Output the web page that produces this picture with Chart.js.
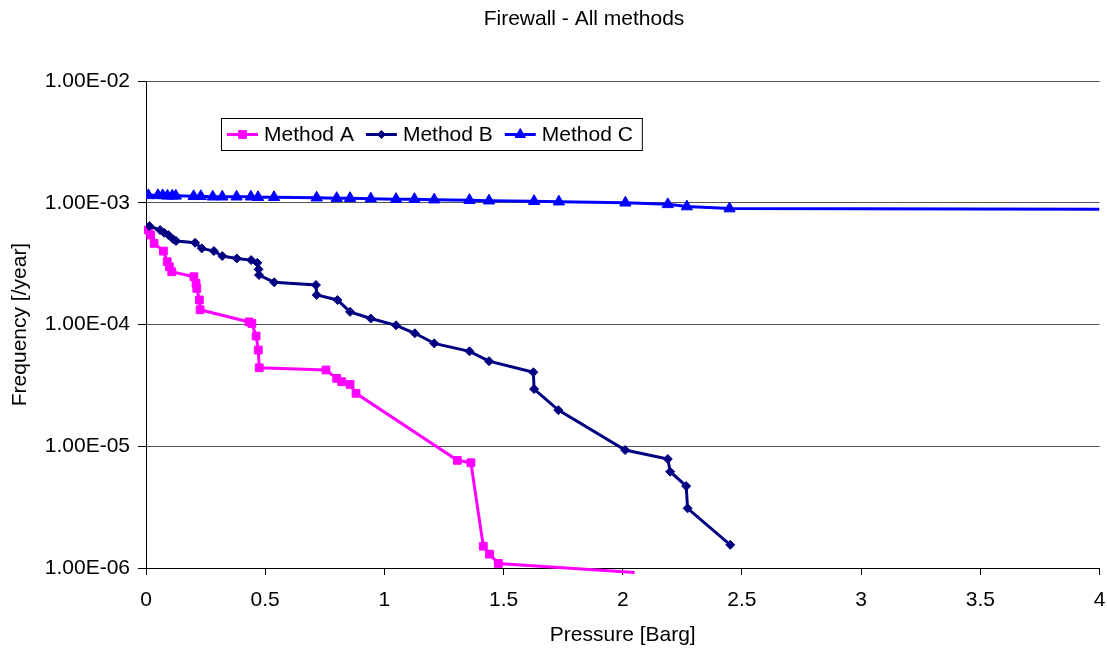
<!DOCTYPE html>
<html>
<head>
<meta charset="utf-8">
<title>Firewall - All methods</title>
<script src="https://cdn.jsdelivr.net/npm/chart.js@4.4.1/dist/chart.umd.min.js"></script>
<style>
  html, body { margin: 0; padding: 0; background: #fff; }
  #wrap { width: 1107px; height: 649px; position: relative; }
</style>
</head>
<body>
<div id="wrap"><canvas id="fwChart"></canvas></div>
<script>
// Values
const chartTitle = 'Firewall - All methods';
const seriesNames = ['Method A', 'Method B', 'Method C'];

const pressureA = [0.01, 0.02, 0.034, 0.073, 0.089, 0.098, 0.108, 0.201, 0.21, 0.213,
  0.224, 0.227, 0.432, 0.444, 0.462, 0.471, 0.475, 0.755, 0.80, 0.821,
  0.856, 0.881, 1.306, 1.363, 1.415, 1.441, 1.478, 2.05];
const freqA = [5.97e-4, 5.43e-4, 4.64e-4, 4.01e-4, 3.28e-4, 2.98e-4, 2.71e-4, 2.47e-4, 2.18e-4, 1.98e-4,
  1.59e-4, 1.32e-4, 1.05e-4, 1.02e-4, 8.04e-5, 6.17e-5, 4.41e-5, 4.23e-5, 3.61e-5, 3.39e-5,
  3.22e-5, 2.72e-5, 7.66e-6, 7.32e-6, 1.51e-6, 1.30e-6, 1.09e-6, 9.2e-7];

const pressureB = [0.014, 0.059, 0.076, 0.094, 0.115, 0.126, 0.206, 0.234, 0.285, 0.32,
  0.381, 0.441, 0.467, 0.472, 0.474, 0.538, 0.713, 0.716, 0.803, 0.856,
  0.943, 1.049, 1.128, 1.209, 1.357, 1.439, 1.625, 1.628, 1.73, 2.01,
  2.189, 2.199, 2.266, 2.272, 2.451];
const freqB = [6.44e-4, 5.97e-4, 5.67e-4, 5.43e-4, 5.0e-4, 4.85e-4, 4.69e-4, 4.22e-4, 4.01e-4, 3.65e-4,
  3.49e-4, 3.38e-4, 3.21e-4, 2.84e-4, 2.55e-4, 2.22e-4, 2.11e-4, 1.75e-4, 1.59e-4, 1.27e-4,
  1.12e-4, 9.85e-5, 8.47e-5, 7.0e-5, 6.02e-5, 5.0e-5, 4.05e-5, 2.95e-5, 1.98e-5, 9.3e-6,
  7.85e-6, 6.18e-6, 4.71e-6, 3.09e-6, 1.55e-6];

const pressureC = [0.01, 0.05, 0.07, 0.09, 0.11, 0.125, 0.2, 0.23, 0.28, 0.32,
  0.38, 0.44, 0.47, 0.537, 0.716, 0.80, 0.856, 0.943, 1.049, 1.126,
  1.209, 1.357, 1.439, 1.628, 1.732, 2.011, 2.189, 2.269, 2.448, 4.0];
const freqC = [1.15e-3, 1.15e-3, 1.15e-3, 1.14e-3, 1.14e-3, 1.14e-3, 1.13e-3, 1.13e-3, 1.12e-3, 1.12e-3,
  1.12e-3, 1.12e-3, 1.11e-3, 1.11e-3, 1.10e-3, 1.09e-3, 1.09e-3, 1.08e-3, 1.07e-3, 1.07e-3,
  1.06e-3, 1.05e-3, 1.04e-3, 1.03e-3, 1.02e-3, 1.0e-3, 0.97e-3, 0.93e-3, 0.895e-3, 0.885e-3];

const yTicks = [1e-6, 1e-5, 1e-4, 1e-3, 1e-2];
const xTicks = [0, 0.5, 1, 1.5, 2, 2.5, 3, 3.5, 4];

const FONT = "'Liberation Sans', Arial, sans-serif";

function toPoints(xs, ys) {
  return xs.map((x, i) => ({ x: x, y: ys[i] }));
}

// Excel style "1.00E-03"
function sciLabel(v) {
  const parts = Number(v).toExponential(2).split('e');
  const exp = parseInt(parts[1], 10);
  return parts[0] + 'E' + (exp < 0 ? '-' : '+') + String(Math.abs(exp)).padStart(2, '0');
}

// hide marker on the last point of a series (line only continues there)
function lastHidden(n, r) {
  return Array.from({ length: n }, (_, i) => (i === n - 1 ? 0 : r));
}

// Title + boxed legend inside the plot, drawn on the canvas
const decorPlugin = {
  id: 'decor',
  afterDraw(chart) {
    const ctx = chart.ctx;
    ctx.save();
    ctx.fillStyle = '#000';
    ctx.font = '21px ' + FONT;
    ctx.textAlign = 'center';
    ctx.textBaseline = 'middle';
    ctx.fillText(chartTitle, 584, 19);

    // legend
    const boxL = 221, boxT = 118, boxH = 32;
    const lineLen = 31, gap = 6, itemGap = 12;
    ctx.font = '21px ' + FONT;
    let x = boxL + 6;
    const items = chart.data.datasets.map(ds => {
      const w = ctx.measureText(ds.label).width;
      const it = { ds: ds, x: x, w: w };
      x += lineLen + gap + w + itemGap;
      return it;
    });
    const boxR = x - itemGap + 9;
    ctx.fillStyle = '#fff';
    ctx.fillRect(boxL, boxT, boxR - boxL, boxH);
    ctx.strokeStyle = '#000';
    ctx.lineWidth = 1;
    ctx.strokeRect(boxL + 0.5, boxT + 0.5, boxR - boxL, boxH);
    const cy = boxT + boxH / 2 + 0.5;
    items.forEach(it => {
      const ds = it.ds;
      ctx.strokeStyle = ds.borderColor;
      ctx.lineWidth = ds.borderWidth;
      ctx.beginPath();
      ctx.moveTo(it.x, cy);
      ctx.lineTo(it.x + lineLen, cy);
      ctx.stroke();
      ctx.fillStyle = ds.pointBackgroundColor;
      ctx.strokeStyle = ds.pointBorderColor;
      ctx.lineWidth = 1;
      Chart.helpers.drawPoint(ctx, {
        pointStyle: ds.pointStyle,
        radius: ds.legendRadius,
        borderWidth: 1,
        rotation: 0
      }, it.x + lineLen / 2, cy);
      ctx.fillStyle = '#000';
      ctx.textAlign = 'left';
      ctx.fillText(ds.label, it.x + lineLen + gap, cy + 1);
    });
    ctx.restore();
  }
};

const ctx = document.getElementById('fwChart').getContext('2d');
const chart = new Chart(ctx, {
  type: 'line',
  data: {
    datasets: [{
      label: seriesNames[0],
      data: toPoints(pressureA, freqA),
      borderColor: '#ff00ff',
      backgroundColor: '#ff00ff',
      pointBackgroundColor: '#ff00ff',
      pointBorderColor: '#ff00ff',
      borderWidth: 3,
      pointStyle: 'rect',
      pointRadius: lastHidden(pressureA.length, 5.5),
      legendRadius: 5.5,
      pointBorderWidth: 1,
      tension: 0,
      clip: false,
      order: 3
    }, {
      label: seriesNames[1],
      data: toPoints(pressureB, freqB),
      borderColor: '#000080',
      backgroundColor: '#000080',
      pointBackgroundColor: '#000080',
      pointBorderColor: '#000080',
      borderWidth: 3,
      pointStyle: 'rectRot',
      pointRadius: 4.5,
      legendRadius: 4,
      pointBorderWidth: 1,
      tension: 0,
      order: 2
    }, {
      label: seriesNames[2],
      data: toPoints(pressureC, freqC),
      borderColor: '#0000ff',
      backgroundColor: '#0000ff',
      pointBackgroundColor: '#0000ff',
      pointBorderColor: '#0000ff',
      borderWidth: 3,
      pointStyle: 'triangle',
      pointRadius: lastHidden(pressureC.length, 6.5),
      legendRadius: 6,
      pointBorderWidth: 1,
      tension: 0,
      order: 1
    }]
  },
  options: {
    responsive: true,
    maintainAspectRatio: false,
    animation: false,
    layout: { padding: { left: 0, right: 7, top: 81, bottom: 0 } },
    plugins: {
      legend: { display: false },
      title: { display: false },
      tooltip: { enabled: false }
    },
    scales: {
      x: {
        type: 'linear',
        min: 0,
        max: 4,
        afterBuildTicks: scale => { scale.ticks = xTicks.map(v => ({ value: v })); },
        afterFit: scale => {
          scale.height = 81;
          scale.paddingLeft = 0;
          scale.paddingRight = 6;
        },
        ticks: {
          color: '#000',
          font: { family: FONT, size: 21 },
          padding: 13,
          maxRotation: 0,
          callback: v => String(v)
        },
        grid: { drawOnChartArea: false, drawTicks: true, tickLength: 7, tickColor: '#000' },
        border: { display: true, color: '#000', width: 1 },
        title: {
          display: true,
          text: 'Pressure [Barg]',
          color: '#000',
          font: { family: FONT, size: 21 },
          padding: { top: 0, bottom: 1 }
        }
      },
      y: {
        type: 'logarithmic',
        min: 1e-6,
        max: 1e-2,
        afterBuildTicks: scale => { scale.ticks = yTicks.map(v => ({ value: v })); },
        afterFit: scale => { scale.width = 146; },
        ticks: {
          color: '#000',
          font: { family: FONT, size: 21 },
          padding: 8,
          callback: v => sciLabel(v)
        },
        grid: { color: '#555', lineWidth: 1, drawTicks: true, tickLength: 8, tickColor: '#000' },
        border: { display: true, color: '#000', width: 1 },
        title: {
          display: true,
          text: 'Frequency [/year]',
          color: '#000',
          font: { family: FONT, size: 21 },
          padding: { top: 8, bottom: 0 }
        }
      }
    }
  },
  plugins: [decorPlugin]
});
</script>
</body>
</html>
